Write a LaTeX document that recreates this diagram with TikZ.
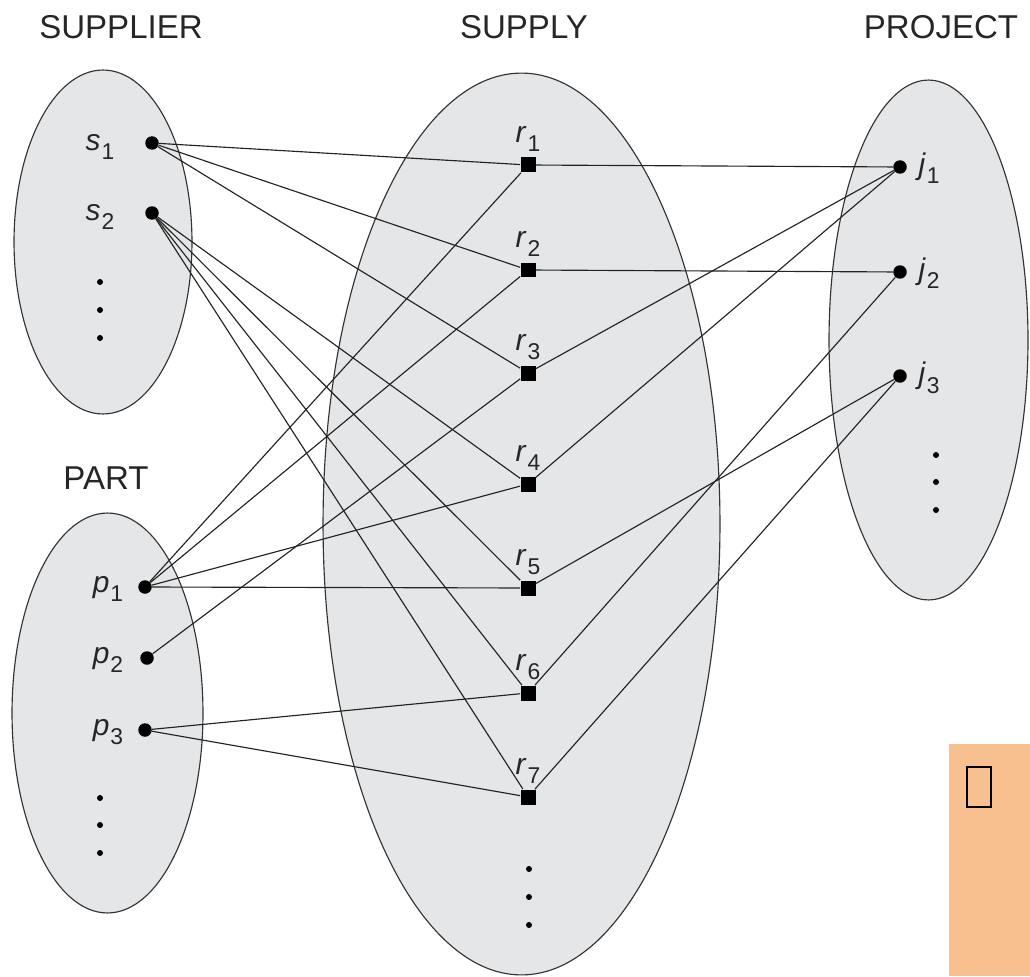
\documentclass[tikz,border=0pt]{standalone}
\usepackage{fontspec}
\setmainfont{Liberation Sans}
\usepackage{tikz}
\usetikzlibrary{shapes.geometric}
\definecolor{setgray}{RGB}{229,230,232}
\definecolor{linkgray}{RGB}{35,35,35}
\definecolor{notepeach}{RGB}{248,191,143}
% italic element name with a lowered index
\newcommand{\vlab}[2]{\textit{#1}\kern0.5pt\raisebox{-0.6ex}{\fontsize{13}{13}\selectfont #2}}
\tikzset{
  setbox/.style={ellipse,draw=black!80,fill=setgray,line width=0.65pt,inner sep=0pt},
  title/.style={font=\fontsize{18.8}{20}\selectfont,text=black!85},
  lbl/.style={font=\fontsize{17}{18}\selectfont,text=black!85,inner sep=0pt},
  vdot/.style={circle,fill=black,inner sep=0pt,minimum size=0.27cm},
  rbox/.style={rectangle,fill=black,inner sep=0pt,minimum size=0.30cm},
  more/.style={circle,fill=black,inner sep=0pt,minimum size=0.12cm},
  link/.style={draw=linkgray,line width=0.65pt}
}

\begin{document}
\begin{tikzpicture}[x=0.02cm,y=-0.02cm]
  \useasboundingbox (0,0) rectangle (1030,976);

  % the four sets
  \node[setbox,minimum width=3.56cm,minimum height=6.88cm] (supplier) at (103,242) {};
  \node[setbox,minimum width=3.82cm,minimum height=8.00cm] (part) at (107.5,713) {};
  \node[setbox,minimum width=7.94cm,minimum height=18.04cm] (supply) at (521.5,524) {};
  \node[setbox,minimum width=3.98cm,minimum height=10.40cm] (project) at (928.5,340) {};

  \node[title] at (121,27) {SUPPLIER};
  \node[title] at (524,27) {SUPPLY};
  \node[title] at (941,27) {PROJECT};
  \node[title] at (106,478) {PART};

  % suppliers
  \node[vdot] (s1) at (152,143) {};
  \node[vdot] (s2) at (152,213) {};
  \node[lbl] at (100,147) {\vlab{s}{1}};
  \node[lbl] at (100,217) {\vlab{s}{2}};
  \node[more] at (100,282) {};
  \node[more] at (100,310) {};
  \node[more] at (100,338) {};

  % parts
  \node[vdot] (p1) at (145,587) {};
  \node[vdot] (p2) at (147,658) {};
  \node[vdot] (p3) at (145,730) {};
  \node[lbl] at (108,589) {\vlab{p}{1}};
  \node[lbl] at (108,660) {\vlab{p}{2}};
  \node[lbl] at (108,732) {\vlab{p}{3}};
  \node[more] at (100,798) {};
  \node[more] at (100,825) {};
  \node[more] at (100,853) {};

  % supply relationship instances
  \node[rbox] (r1) at (528,165) {};
  \node[rbox] (r2) at (528,270) {};
  \node[rbox] (r3) at (528,373) {};
  \node[rbox] (r4) at (528,484) {};
  \node[rbox] (r5) at (528,588) {};
  \node[rbox] (r6) at (528,693) {};
  \node[rbox] (r7) at (528,797) {};
  \node[lbl] at (528,139) {\vlab{r}{1}};
  \node[lbl] at (528,244) {\vlab{r}{2}};
  \node[lbl] at (528,347) {\vlab{r}{3}};
  \node[lbl] at (528,458) {\vlab{r}{4}};
  \node[lbl] at (528,562) {\vlab{r}{5}};
  \node[lbl] at (528,667) {\vlab{r}{6}};
  \node[lbl] at (528,771) {\vlab{r}{7}};
  \node[more] at (529,869) {};
  \node[more] at (529,897) {};
  \node[more] at (529,925) {};

  % projects
  \node[vdot] (j1) at (900,167) {};
  \node[vdot] (j2) at (900,272) {};
  \node[vdot] (j3) at (900,376) {};
  \node[lbl] at (929,168) {\vlab{j}{1}};
  \node[lbl] at (929,273) {\vlab{j}{2}};
  \node[lbl] at (929,378) {\vlab{j}{3}};
  \node[more] at (936,455) {};
  \node[more] at (936,482) {};
  \node[more] at (936,510) {};

  % links to the supply instances
  \draw[link] (s1) -- (r1);
  \draw[link] (s1) -- (r2);
  \draw[link] (s1) -- (r3);
  \draw[link] (s2) -- (r4);
  \draw[link] (s2) -- (r5);
  \draw[link] (s2) -- (r6);
  \draw[link] (s2) -- (r7);
  \draw[link] (p1) -- (r1);
  \draw[link] (p1) -- (r2);
  \draw[link] (p1) -- (r4);
  \draw[link] (p1) -- (r5);
  \draw[link] (p2) -- (r3);
  \draw[link] (p3) -- (r6);
  \draw[link] (p3) -- (r7);
  \draw[link] (r1) -- (j1);
  \draw[link] (r2) -- (j2);
  \draw[link] (r3) -- (j1);
  \draw[link] (r4) -- (j1);
  \draw[link] (r5) -- (j3);
  \draw[link] (r6) -- (j2);
  \draw[link] (r7) -- (j3);

  % note tab in the corner
  \fill[notepeach] (949,744) rectangle (1030,976);
  \draw[line width=0.9pt] (967,767) rectangle (991,807);
\end{tikzpicture}
\end{document}
